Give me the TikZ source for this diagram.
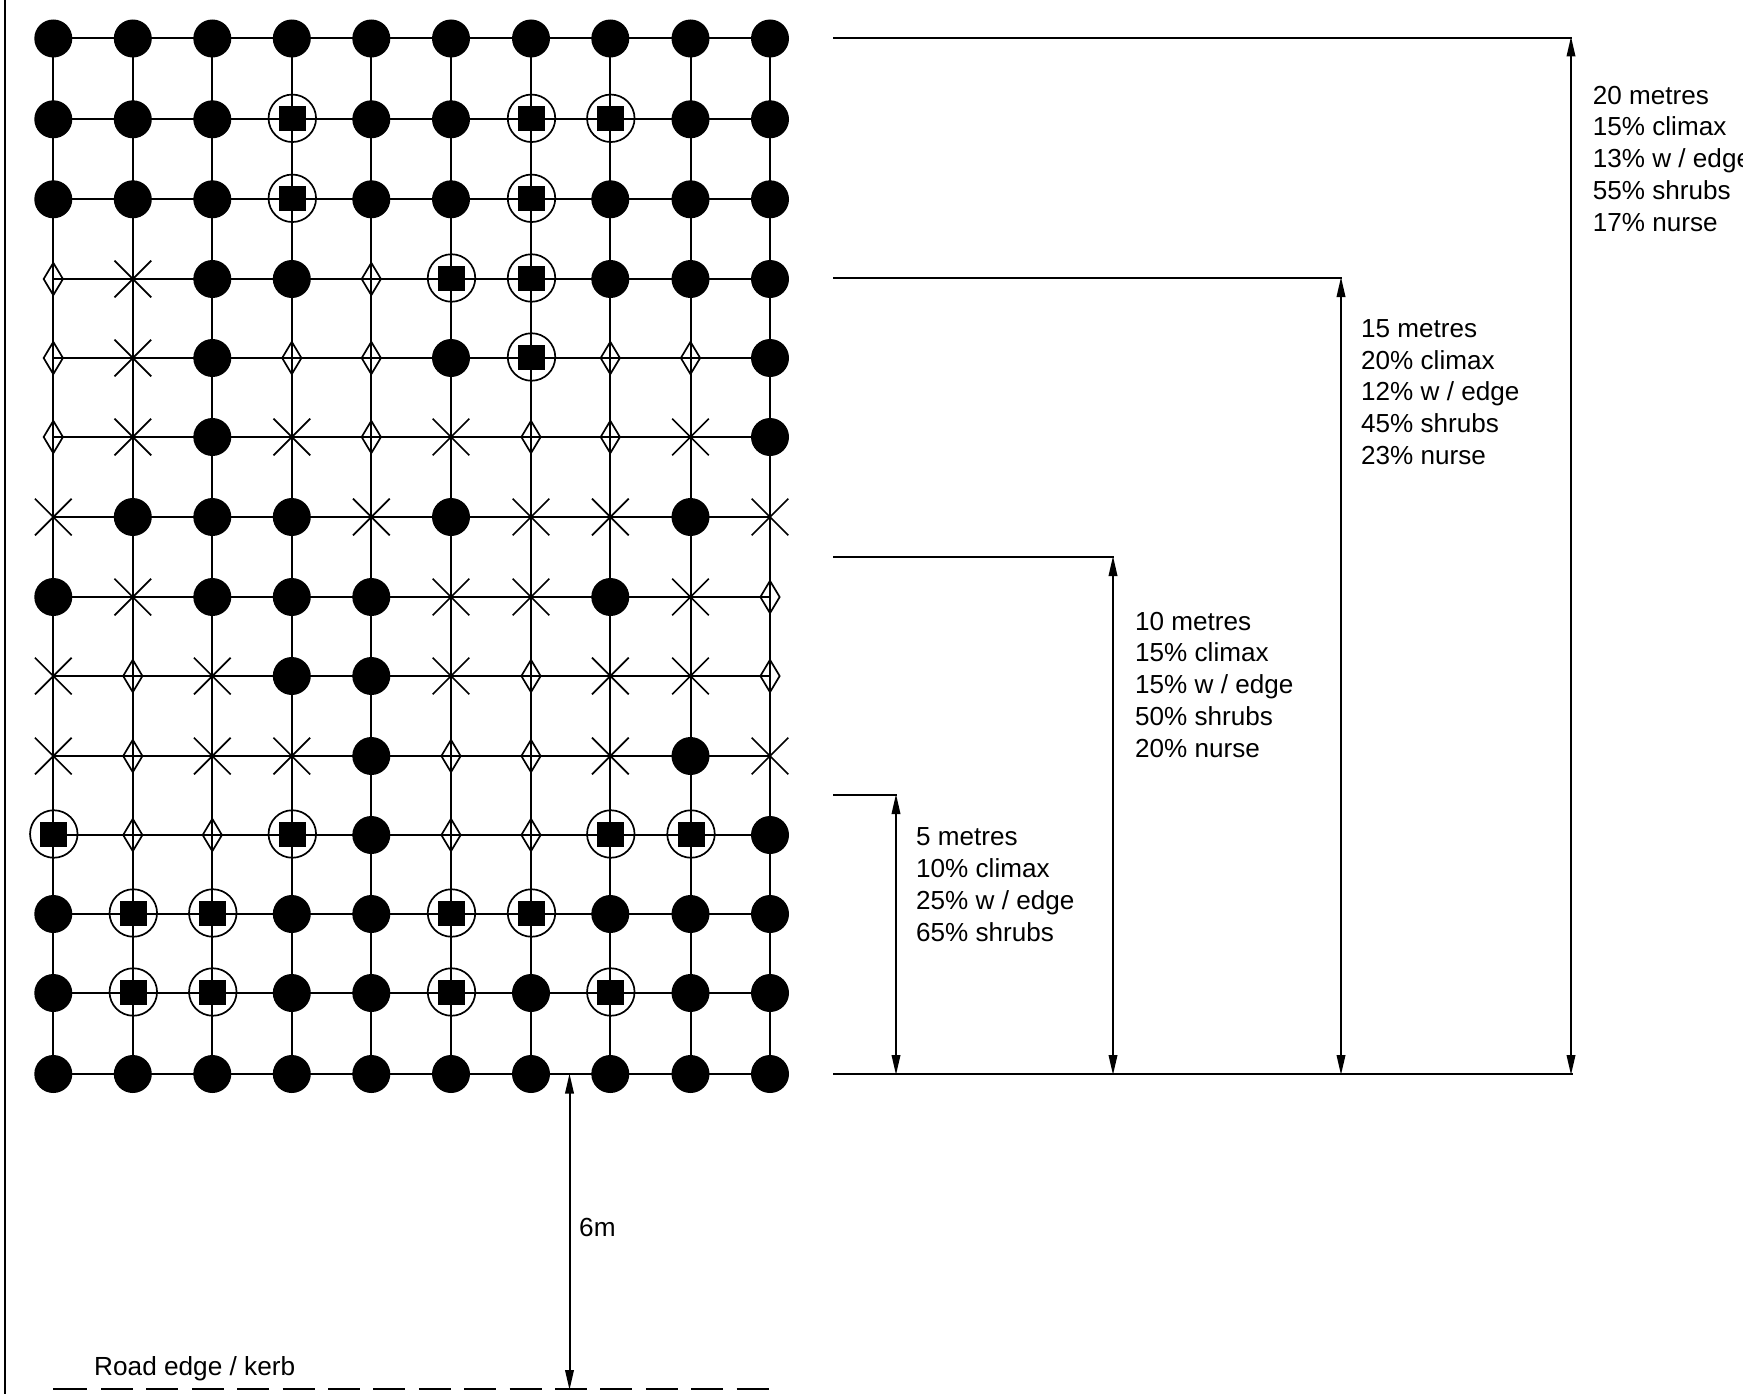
\documentclass[tikz,border=0pt]{standalone}
\usepackage{fontspec}
\setmainfont{Liberation Sans}
\usetikzlibrary{shapes.geometric,shapes.misc,arrows.meta,backgrounds}
\tikzset{
  x=1pt,y=-1pt,
  gridline/.style={line width=2pt,black},
  frameline/.style={line width=2pt,black},
  refline/.style={line width=2pt,black},
  dimline/.style={line width=2pt,black,{Triangle[length=20pt,width=8.5pt]}-{Triangle[length=20pt,width=8.5pt]}},
  roadline/.style={line width=2pt,black,dash pattern=on 32pt off 13.4pt},
  roadfirst/.style={line width=2pt,black},
  treeC/.style={circle,fill=black,inner sep=0pt,minimum size=38pt},
  treeS/.style={rectangle,fill=black,inner sep=0pt,minimum width=27pt,minimum height=25pt,xshift=0.5pt,yshift=1pt,
     append after command={node[circle,draw=black,line width=1.7pt,inner sep=0pt,minimum size=47.5pt] at (\tikzlastnode.center) {}}},
  treeD/.style={diamond,draw=black,line width=1.7pt,inner sep=0pt,minimum width=20pt,minimum height=33pt},
  treeX/.style={cross out,draw=black,line width=1.7pt,inner sep=0pt,minimum width=35pt,minimum height=35pt},
  lbl/.style={anchor=base west,inner sep=0pt,font=\fontsize{26.2pt}{32pt}\selectfont,text=black},
  blk/.style={anchor=north west,align=left,inner sep=0pt,font=\fontsize{26.1pt}{31.9pt}\selectfont,text=black},
}
\begin{document}
\begin{tikzpicture}
\useasboundingbox (0,0) rectangle (1743,1394);
\clip (0,0) rectangle (1743,1394);
% trees
\foreach \yy [count=\r] in {38.5,119.3,199.3,279,358,437,517,597,676,756,835,914,993,1074}{
  \foreach \xx [count=\c] in {53.3,132.8,212.3,291.8,371.3,451,531,610.3,690.5,770}{
    \coordinate (g-\r-\c) at (\xx,\yy);
  }
}
\foreach \r/\row in {
 1/{C,C,C,C,C,C,C,C,C,C},
 2/{C,C,C,S,C,C,S,S,C,C},
 3/{C,C,C,S,C,C,S,C,C,C},
 4/{D,X,C,C,D,S,S,C,C,C},
 5/{D,X,C,D,D,C,S,D,D,C},
 6/{D,X,C,X,D,X,D,D,X,C},
 7/{X,C,C,C,X,C,X,X,C,X},
 8/{C,X,C,C,C,X,X,C,X,D},
 9/{X,D,X,C,C,X,D,X,X,D},
 10/{X,D,X,X,C,D,D,X,C,X},
 11/{S,D,D,S,C,D,D,S,S,C},
 12/{C,S,S,C,C,S,S,C,C,C},
 13/{C,S,S,C,C,S,C,S,C,C},
 14/{C,C,C,C,C,C,C,C,C,C}}{
  \foreach \k [count=\c] in \row {
    \node[tree\k] (n-\r-\c) at (g-\r-\c) {};
  }
}
\begin{scope}[on background layer]
  \foreach \r in {1,...,14}{\draw[gridline] (g-\r-1) -- (g-\r-10);}
  \foreach \c in {1,...,10}{\draw[gridline] (g-1-\c) -- (g-14-\c);}
\end{scope}
% frame
\coordinate (ft) at (4.7,0); \coordinate (fb) at (4.7,1394);
\draw[frameline] (ft) -- (fb);
% reference lines
\coordinate (b0) at (833,1074); \coordinate (b1) at (1573,1074);
\coordinate (t20l) at (833,38); \coordinate (t20r) at (1572,38);
\coordinate (t15l) at (833,278);  \coordinate (t15r) at (1342,278);
\coordinate (t10l) at (833,557);  \coordinate (t10r) at (1114,557);
\coordinate (t5l)  at (833,795);  \coordinate (t5r)  at (897,795);
\draw[refline] (b0) -- (b1);
\draw[refline] (t20l) -- (t20r);
\draw[refline] (t15l) -- (t15r);
\draw[refline] (t10l) -- (t10r);
\draw[refline] (t5l) -- (t5r);
\coordinate (a5) at (896,1075); \coordinate (a10) at (1113,1075);
\coordinate (a15) at (1341,1075); \coordinate (a20) at (1571,1075);
\coordinate (a5t) at (896,794); \coordinate (a10t) at (1113,556);
\coordinate (a15t) at (1341,277); \coordinate (a20t) at (1571,36.5);
\draw[dimline] (a5) -- (a5t);
\draw[dimline] (a10) -- (a10t);
\draw[dimline] (a15) -- (a15t);
\draw[dimline] (a20) -- (a20t);
% road
\coordinate (r0) at (53,1389); \coordinate (r0e) at (87,1389);
\coordinate (r1) at (101,1389); \coordinate (r2) at (771,1389);
\draw[roadfirst] (r0) -- (r0e);
\draw[roadline] (r1) -- (r2);
\coordinate (six) at (569.5,1073.5); \coordinate (sixb) at (569.5,1390);
\draw[dimline] (six) -- (sixb);
% labels
\node[blk] (t20) at (1592.7,85.6) {20 metres\\15\% climax\\13\% w / edge\\55\% shrubs\\17\% nurse};
\node[blk] (t15) at (1361,319) {15 metres\\20\% climax\\12\% w / edge\\45\% shrubs\\23\% nurse};
\node[blk] (t10) at (1135,611.6) {10 metres\\15\% climax\\15\% w / edge\\50\% shrubs\\20\% nurse};
\node[blk] (t5) at (916,827.8) {5 metres\\10\% climax\\25\% w / edge\\65\% shrubs};
\node[lbl] (t6) at (579,1236.5) {6m};
\node[lbl] (road) at (94,1375) {Road edge / kerb};
\end{tikzpicture}
\end{document}
